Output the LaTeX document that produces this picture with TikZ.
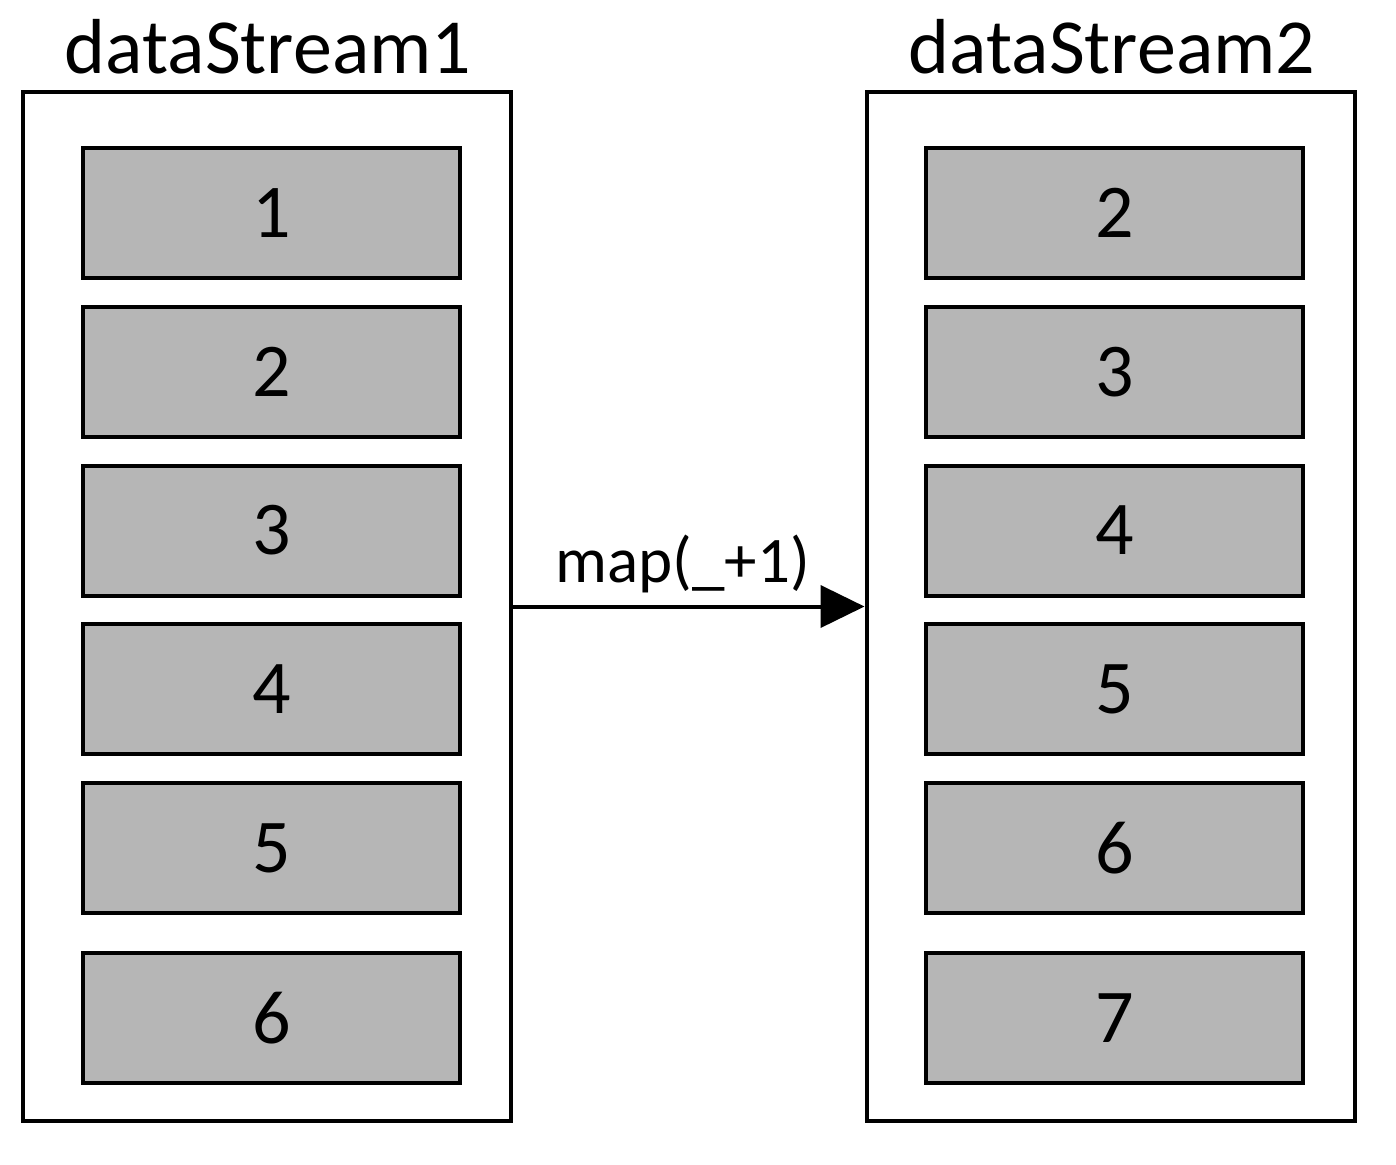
\documentclass[tikz,border=0pt]{standalone}
\usepackage{fontspec}
\setmainfont{Carlito}
\usetikzlibrary{arrows.meta}
\definecolor{itemgray}{RGB}{182,182,182}
\begin{document}
\begin{tikzpicture}[x=0.5pt,y=-0.5pt,
  container/.style={draw=black,line width=2pt,fill=white,inner sep=0pt,minimum width=244pt,minimum height=514.5pt},
  item/.style={draw=black,line width=2pt,fill=itemgray,inner sep=0pt,minimum width=188.5pt,minimum height=65pt,font=\fontsize{38}{40}\selectfont},
  title/.style={font=\fontsize{39}{42}\selectfont,inner sep=0pt,anchor=base},
  conn/.style={line width=2pt,-{Triangle[length=22pt,width=21pt]}}]
\useasboundingbox (0,0) rectangle (1396,1164);
\node[container] (c1) at (267,606.5) {};
\node[container] (c2) at (1110.5,606.5) {};
\node[title] (t1) at (268,73) {dataStream1};
\node[title] (t2) at (1112,73) {dataStream2};
\foreach \v/\y [count=\i] in {1/213,2/372,3/530.5,4/689,5/848,6/1018}{
  \node[item] (a\i) at (271.5,\y) {\v};
}
\foreach \v/\y [count=\i] in {2/213,3/372,4/530.5,5/689,6/848,7/1018}{
  \node[item] (b\i) at (1114.5,\y) {\v};
}
\draw[conn] (c1.east) -- node[above=6pt,xshift=-3pt,font=\fontsize{32.5}{34}\selectfont,inner sep=0pt] (lbl) {map(\_+1)} (c2.west);
\end{tikzpicture}
\end{document}
